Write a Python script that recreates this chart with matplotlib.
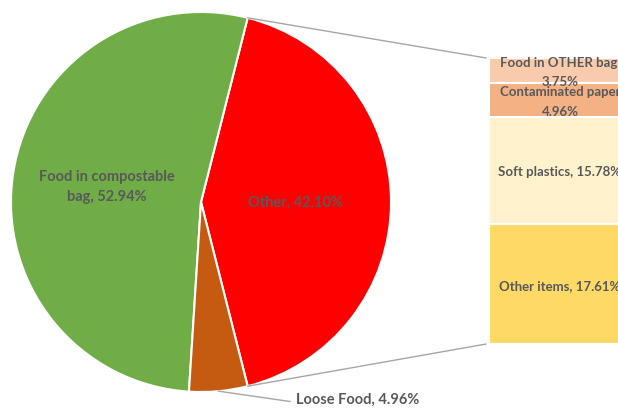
import matplotlib
matplotlib.use("Agg")
import matplotlib.pyplot as plt
import numpy as np
from matplotlib.patches import ConnectionPatch

# pie: main split of the bin contents
pie_labels = ["Other", "Food in compostable\nbag", "Loose Food"]
pie_values = [42.10, 52.94, 4.96]
pie_colors = ["#FF0000", "#70AD47", "#C55A11"]

# bar: breakdown of the "Other" slice, listed bottom to top
bar_labels = ["Other items", "Soft plastics", "Contaminated paper\n", "Food in OTHER bag,\n"]
bar_values = [17.61, 15.78, 4.96, 3.75]
bar_colors = ["#FFD966", "#FFF2CC", "#F4B183", "#F8CBAD"]

TXT = "#595959"
LINE = "#A6A6A6"
plt.rcParams["font.family"] = ["Lato", "DejaVu Sans"]

fig = plt.figure(figsize=(6.18, 4.09), dpi=100)

axp = fig.add_axes([11 / 618, 17 / 409, 380 / 618, 380 / 409])
other_frac = pie_values[0] / sum(pie_values)
start = -360 * other_frac / 2
wedges, _ = axp.pie(pie_values, colors=pie_colors, startangle=start,
                    counterclock=True, radius=1.0,
                    wedgeprops=dict(edgecolor="white", linewidth=1.5))
axp.set_xlim(-1, 1)
axp.set_ylim(-1, 1)
axp.set_aspect("equal")
axp.axis("off")

fs = 10.5
axp.text(0.50, -0.005, f"{pie_labels[0]}, {pie_values[0]:.2f}%",
         ha="center", va="center", fontsize=fs, fontweight="bold", color=TXT)
axp.text(-0.495, 0.08, f"{pie_labels[1]}, {pie_values[1]:.2f}%",
         ha="center", va="center", fontsize=fs, fontweight="bold", color=TXT,
         linespacing=1.6)

# leader line for the small slice
w = wedges[2]
mid = np.deg2rad((w.theta1 + w.theta2) / 2)
p0 = (np.cos(mid), np.sin(mid))
p1 = (0.468, -1.05)
axp.plot([p0[0], p1[0]], [p0[1], p1[1]], color=LINE, lw=1.0, clip_on=False)
axp.text(p1[0] + 0.03, p1[1] + 0.01, f"{pie_labels[2]}, {pie_values[2]:.2f}%",
         ha="left", va="center", fontsize=fs, fontweight="bold", color=TXT)

# stacked bar for the "Other" breakdown
axb = fig.add_axes([489 / 618, 65 / 409, 142 / 618, 286 / 409])
bottom = 0.0
for lab, val, col in zip(bar_labels, bar_values, bar_colors):
    axb.bar(0, val, width=1.0, bottom=bottom, color=col,
            edgecolor="white", linewidth=1.5)
    if lab.endswith("\n"):
        txt = f"{lab}{val:.2f}%"
    else:
        txt = f"{lab}, {val:.2f}%"
    axb.text(0, bottom + val / 2 - 0.25, txt, ha="center", va="center",
             fontsize=9.5, fontweight="bold", color=TXT, linespacing=1.75,
             clip_on=False, zorder=5)
    bottom += val
axb.set_xlim(-0.5, 0.5)
axb.set_ylim(0, sum(bar_values))
axb.axis("off")

# connectors from the "Other" slice edges to the bar
t1 = np.deg2rad(wedges[0].theta2)
t0 = np.deg2rad(wedges[0].theta1)
total = sum(bar_values)
for ang, yb in ((t1, total), (t0, 0.0)):
    con = ConnectionPatch(xyA=(np.cos(ang), np.sin(ang)), coordsA=axp.transData,
                          xyB=(-0.52, yb), coordsB=axb.transData,
                          color=LINE, lw=1.0)
    fig.add_artist(con)

fig.savefig("out.png", dpi=100)
